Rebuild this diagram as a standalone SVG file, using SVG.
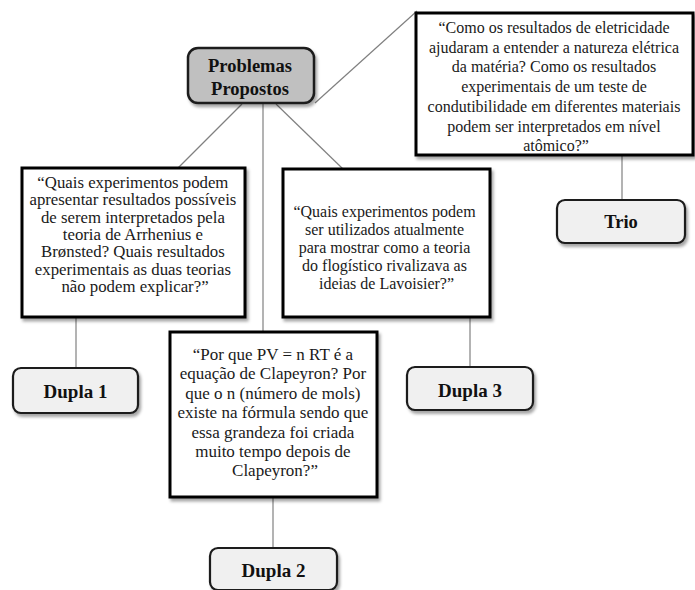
<svg xmlns="http://www.w3.org/2000/svg" width="695" height="590" viewBox="0 0 695 590">
<defs>
<filter id="sh" x="-10%" y="-10%" width="130%" height="140%">
<feDropShadow dx="2" dy="3" stdDeviation="1.5" flood-color="#000" flood-opacity="0.35"/>
</filter>
</defs>
<style>
.q{fill:#fff;stroke:#000;stroke-width:3}
.n{fill:#f0f0f0;stroke:#1a1a1a;stroke-width:2.2}
.root{fill:#c0c0c0;stroke:#1a1a1a;stroke-width:2.5}
.t{font-family:"Liberation Serif","Times New Roman",serif;fill:#1a1a1a;text-anchor:middle}
.b{font-family:"Liberation Serif","Times New Roman",serif;font-weight:bold;fill:#111;text-anchor:middle}
.c{stroke:#808080;stroke-width:1.2;fill:none}
</style>
<rect width="695" height="590" fill="#fff"/>
<g id="connectors">
<line class="c" x1="242" y1="104" x2="178" y2="168"/>
<line class="c" x1="263" y1="104" x2="263" y2="332"/>
<line class="c" x1="276" y1="104" x2="343" y2="169"/>
<line class="c" x1="315" y1="103" x2="417" y2="11"/>
<line class="c" x1="76" y1="317" x2="76" y2="368"/>
<line class="c" x1="273" y1="497" x2="273" y2="548"/>
<line class="c" x1="470" y1="317" x2="470" y2="367"/>
<line class="c" x1="622" y1="155" x2="622" y2="200"/>
</g>
<g id="problemas">
<rect class="root" x="188" y="48" width="126" height="55" rx="10" filter="url(#sh)"/>
<text class="b" font-size="18.5"><tspan x="250" y="72">Problemas</tspan><tspan x="250" y="95">Propostos</tspan></text>
</g>
<g id="q-trio">
<rect class="q" x="416" y="13" width="277" height="142" filter="url(#sh)"/>
<text class="t" font-size="16">
<tspan x="556" y="33">“Como os resultados de eletricidade</tspan>
<tspan x="556" y="52.7">ajudaram a entender a natureza elétrica</tspan>
<tspan x="556" y="72.4">da matéria? Como os resultados</tspan>
<tspan x="556" y="92.1">experimentais de um teste de</tspan>
<tspan x="556" y="111.8">condutibilidade em diferentes materiais</tspan>
<tspan x="556" y="131.5">podem ser interpretados em nível</tspan>
<tspan x="556" y="151">atômico?”</tspan>
</text>
</g>
<g id="q-dupla1">
<rect class="q" x="22" y="168" width="223" height="149" filter="url(#sh)"/>
<text class="t" font-size="16.8">
<tspan x="135" y="188">“Quais experimentos podem</tspan>
<tspan x="135" y="205.3">apresentar resultados possíveis</tspan>
<tspan x="135" y="222.6">de serem interpretados pela</tspan>
<tspan x="135" y="239.9">teoria de Arrhenius e</tspan>
<tspan x="135" y="257.2">Brønsted? Quais resultados</tspan>
<tspan x="135" y="274.5">experimentais as duas teorias</tspan>
<tspan x="135" y="291.8">não podem explicar?”</tspan>
</text>
</g>
<g id="q-dupla3">
<rect class="q" x="283" y="169" width="207" height="148" filter="url(#sh)"/>
<text class="t" font-size="16">
<tspan x="386.5" y="217">“Quais experimentos podem</tspan>
<tspan x="386.5" y="235">ser utilizados atualmente</tspan>
<tspan x="386.5" y="253">para mostrar como a teoria</tspan>
<tspan x="386.5" y="271">do flogístico rivalizava as</tspan>
<tspan x="386.5" y="289">ideias de Lavoisier?”</tspan>
</text>
</g>
<g id="q-dupla2">
<rect class="q" x="170" y="332" width="207" height="165" filter="url(#sh)"/>
<text class="t" font-size="17">
<tspan x="275" y="360">“Por que PV = n RT é a</tspan>
<tspan x="275" y="379.4">equação de Clapeyron? Por</tspan>
<tspan x="275" y="398.8">que o n (número de mols)</tspan>
<tspan x="275" y="418.2">existe na fórmula sendo que</tspan>
<tspan x="275" y="437.6">essa grandeza foi criada</tspan>
<tspan x="275" y="457">muito tempo depois de</tspan>
<tspan x="275" y="476.4">Clapeyron?”</tspan>
</text>
</g>
<g id="dupla1">
<rect class="n" x="13" y="368" width="125" height="45" rx="8" filter="url(#sh)"/>
<text class="b" font-size="19" x="75.5" y="398">Dupla 1</text>
</g>
<g id="dupla2">
<rect class="n" x="210" y="548" width="127" height="42" rx="8" filter="url(#sh)"/>
<text class="b" font-size="19" x="273.5" y="577">Dupla 2</text>
</g>
<g id="dupla3">
<rect class="n" x="407" y="367" width="126" height="43" rx="8" filter="url(#sh)"/>
<text class="b" font-size="19" x="470" y="397">Dupla 3</text>
</g>
<g id="trio">
<rect class="n" x="557" y="200" width="128" height="43" rx="8" filter="url(#sh)"/>
<text class="b" font-size="18.5" x="621" y="228">Trio</text>
</g>
</svg>
